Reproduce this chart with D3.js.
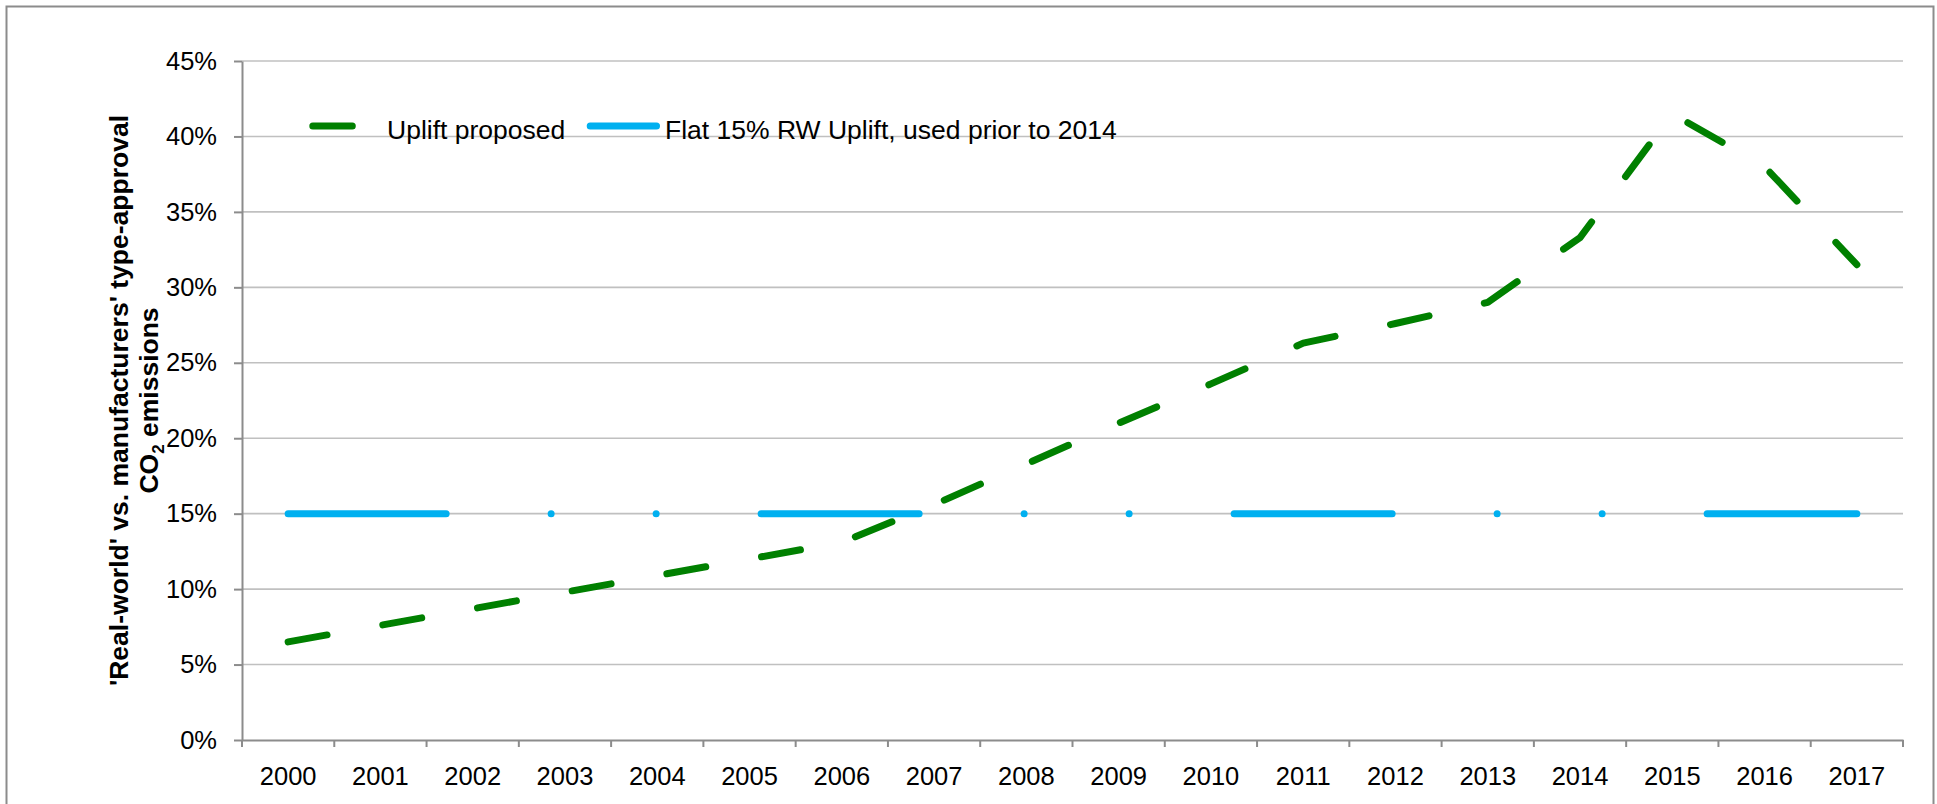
<!DOCTYPE html>
<html>
<head>
<meta charset="utf-8">
<script src="https://cdn.jsdelivr.net/npm/d3@7"></script>
<style>
  body { margin: 0; background: #fff; }
  svg { display: block; font-family: "Liberation Sans", Arial, sans-serif; }
</style>
</head>
<body>
<div id="chart"></div>
<script>
// data
const years = ["2000", "2001", "2002", "2003", "2004", "2005", "2006", "2007", "2008",
               "2009", "2010", "2011", "2012", "2013", "2014", "2015", "2016", "2017"];
const upliftProposed = [6.5, 7.6, 8.7, 9.8, 10.9, 12.0, 13.1, 15.6, 18.3,
                        21.0, 23.6, 26.3, 27.6, 29.0, 33.3, 41.5, 38.0, 31.5];
const flatUplift = [15, 15, 15, 15, 15, 15, 15, 15, 15,
                    15, 15, 15, 15, 15, 15, 15, 15, 15];
const yTicks = [0, 5, 10, 15, 20, 25, 30, 35, 40, 45];
const seriesNames = ["Uplift proposed", "Flat 15% RW Uplift, used prior to 2014"];

const W = 1937, H = 804;
const green = "#008000", blue = "#00b0f0";
const axisGrey = "#8c8c8c", gridGrey = "#c0c0c0";

const svg = d3.select("#chart").append("svg")
  .attr("width", W)
  .attr("height", H);

// outer frame (bottom edge falls outside the picture)
svg.append("rect")
  .attr("x", 6.5).attr("y", 6.5)
  .attr("width", 1927).attr("height", 900)
  .attr("fill", "#fff")
  .attr("stroke", axisGrey)
  .attr("stroke-width", 2);

const x = d3.scaleBand().domain(years).range([242, 1903]);
const y = d3.scaleLinear().domain([0, 45]).range([740, 61]);

// gridlines
svg.append("g")
  .selectAll("line")
  .data(yTicks.filter(d => d > 0))
  .enter()
  .append("line")
  .attr("x1", x.range()[0])
  .attr("x2", x.range()[1])
  .attr("y1", d => y(d))
  .attr("y2", d => y(d))
  .attr("stroke", gridGrey)
  .attr("stroke-width", 1.6);

// y axis
const yAxis = svg.append("g")
  .attr("transform", `translate(${x.range()[0]},0)`)
  .call(d3.axisLeft(y).tickValues(yTicks).tickFormat(d => d + "%")
        .tickSizeInner(8).tickSizeOuter(0).tickPadding(17));

// x axis (labels only, ticks go on band edges)
const xAxis = svg.append("g")
  .attr("transform", `translate(0,${y(0)})`)
  .call(d3.axisBottom(x).tickSizeInner(0).tickSizeOuter(0).tickPadding(27));

const edges = years.map(d => x(d)).concat([x.range()[1]]);
xAxis.selectAll("line.edge")
  .data(edges)
  .enter()
  .append("line")
  .attr("class", "edge")
  .attr("x1", d => d).attr("x2", d => d)
  .attr("y1", 0).attr("y2", 7);

[yAxis, xAxis].forEach(g => {
  g.select(".domain").attr("stroke", axisGrey).attr("stroke-width", 2);
  g.selectAll("line").attr("stroke", axisGrey).attr("stroke-width", 2);
  g.selectAll("text")
    .attr("font-size", "25.5px")
    .attr("font-family", "'Liberation Sans', Arial, sans-serif")
    .attr("fill", "#000");
});

// y axis title, two lines
const title = svg.append("g")
  .attr("font-size", "26.5px")
  .attr("font-weight", "bold")
  .attr("fill", "#000")
  .attr("text-anchor", "middle");
const midY = (y(0) + y(45)) / 2;
title.append("text")
  .attr("transform", `translate(128,${midY}) rotate(-90)`)
  .text("'Real-world' vs. manufacturers' type-approval");
const t2 = title.append("text")
  .attr("transform", `translate(158,${midY}) rotate(-90)`);
t2.append("tspan").text("CO");
t2.append("tspan").attr("font-size", "17px").attr("dy", 6).text("2");
t2.append("tspan").attr("dy", -6).text(" emissions");

// lines
const line = d3.line()
  .x((d, i) => x(years[i]) + x.bandwidth() / 2)
  .y(d => y(d));

svg.append("path")
  .datum(upliftProposed)
  .attr("d", line)
  .attr("fill", "none")
  .attr("stroke", green)
  .attr("stroke-width", 7)
  .attr("stroke-linecap", "round")
  .attr("stroke-linejoin", "round")
  .attr("stroke-dasharray", "39.5,56.7");

svg.append("path")
  .datum(flatUplift)
  .attr("d", line)
  .attr("fill", "none")
  .attr("stroke", blue)
  .attr("stroke-width", 7)
  .attr("stroke-linecap", "round")
  .attr("stroke-dasharray", "158,105,0,105,0,105");

// legend
const legend = svg.append("g");
legend.append("line")
  .attr("x1", 312.8).attr("x2", 385)
  .attr("y1", 126).attr("y2", 126)
  .attr("stroke", green)
  .attr("stroke-width", 7)
  .attr("stroke-linecap", "round")
  .attr("stroke-dasharray", "39.5,56.7");
legend.append("text")
  .attr("x", 387).attr("y", 139)
  .attr("font-size", "26.5px")
  .attr("fill", "#000")
  .text(seriesNames[0]);
legend.append("line")
  .attr("x1", 590.2).attr("x2", 656.5)
  .attr("y1", 126).attr("y2", 126)
  .attr("stroke", blue)
  .attr("stroke-width", 7)
  .attr("stroke-linecap", "round");
legend.append("text")
  .attr("x", 665).attr("y", 139)
  .attr("font-size", "26.5px")
  .attr("fill", "#000")
  .text(seriesNames[1]);
</script>
</body>
</html>
